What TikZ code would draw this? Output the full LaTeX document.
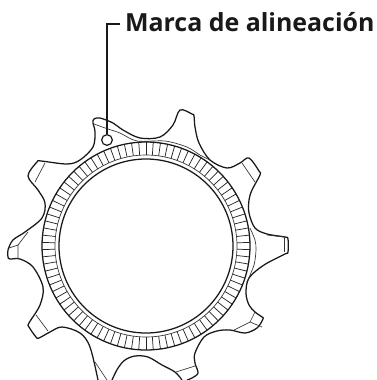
\documentclass[tikz,border=0pt]{standalone}
\usepackage{fontspec}
\setmainfont{Open Sans}
\usepackage{tikz}
\tikzstyle{outline}=[draw=black!90, line width=0.95pt, line join=round]
\tikzstyle{detail}=[draw=black!80, line width=0.5pt]
\tikzstyle{tick}=[draw=black!85, line width=0.55pt]
\tikzstyle{leader}=[draw=black!90, line width=1.25pt]
\tikzstyle{mark point}=[circle, draw=black!90, line width=0.9pt, fill=white, inner sep=0pt, minimum size=8pt]
\begin{document}
\begin{tikzpicture}[x=0.75pt, y=-0.75pt]
	\useasboundingbox (0,0) rectangle (377,380);
	\begin{scope}
		% cog outline
		\draw[outline] plot[smooth, tension=0.55] coordinates {(187,380) (192,378) (198,373) (195,363) (195,353) (204,337) (217,331) (230,330) (245,333) (257,328) (263,319) (262,317) (255,312) (249,305) (246,293) (249,278) (264,265) (285,254) (288,252) (288,239) (285,237) (267,234) (255,228) (249,213) (249,200) (252,190) (260,175) (259,171) (249,158) (240,163) (227,168) (210,160) (199,143) (195,127) (194,116) (192,114) (180,110) (173,125) (160,137) (140,138) (123,130) (113,123) (100,118) (94,119) (93,123) (95,132) (93,147) (80,160) (67,164) (41,161) (37,162) (28,176) (38,190) (45,203) (42,218) (25,232) (13,240) (8,250) (8,257) (10,259) (20,259) (33,267) (43,287) (40,305) (29,323) (29,327) (36,337) (39,338) (50,332) (62,327) (80,333) (90,347) (98,380)};
		\draw[outline] plot[smooth, tension=0.55] coordinates {(112,380) (118,368) (125,360) (135,356) (148,357) (162,365) (175,372) (182,380)};
		% tooth lines
		\draw[detail] (45,163) -- (35,182);
		\draw[detail] (28,232) -- (18,245) -- (18,259);
		\draw[detail] (9,248) -- (18,245);
		\draw[detail] (36,315) -- (48,331);
		\draw[detail] (95,362) -- (107,380);
		\draw[detail] (176,372) -- (195,366);
		\draw[detail] (234,330) -- (250,322) -- (262,327);
		\draw[detail] (255,312) -- (250,322);
		\draw[detail] (284,237) -- (284,252);
		\draw[detail] (267,235) -- (284,237);
		\draw[detail] (242,163) -- (255,182);
		\draw[detail] plot[smooth] coordinates {(94,124) (108,129) (120,133) (137,141) (165,141) (187,147) (200,155) (210,160)};
		\draw[detail] plot[smooth] coordinates {(250,228) (255,240) (256,250) (254,265) (247,282)};
		% ring
		\foreach \a in {2,6,...,358}
			\draw[tick] ({146+91*cos(\a)},{246+91*sin(\a)}) -- ({146+104*cos(\a)},{246+104*sin(\a)});
		\draw[outline] (146,246) circle [radius=104];
		\draw[detail] (146,246) circle [radius=91];
		\draw[outline] (146,246) circle [radius=87];
	\end{scope}
	\begin{scope}
		\node (mark) at (107,140)[mark point] {};
		\coordinate (corner) at (107,24);
		\node (label) at (120,22)[anchor=west, inner sep=3.6pt, text=black!90] {\fontsize{18.7}{20}\selectfont\bfseries Marca de alineación};
	\end{scope}
	\begin{scope}
		\draw[leader] (mark) -- (corner) -- (corner -| label.west);
	\end{scope}
\end{tikzpicture}
\end{document}
